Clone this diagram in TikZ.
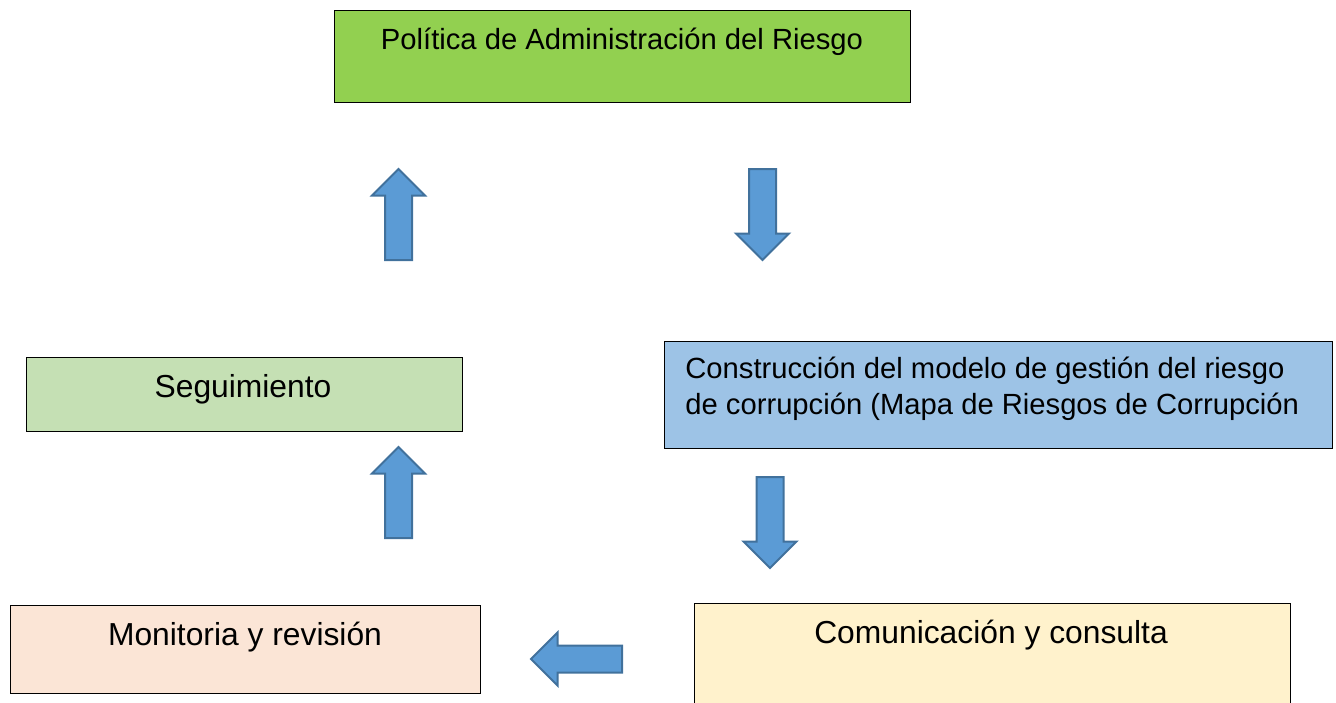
\documentclass[tikz,border=0pt]{standalone}
\usepackage{fontspec}
\setmainfont{Liberation Sans}
\usepackage{xcolor}
\usetikzlibrary{shapes.arrows}
\definecolor{verdePol}{HTML}{92D050}
\definecolor{verdeSeg}{HTML}{C5E0B4}
\definecolor{azulCon}{HTML}{9DC3E6}
\definecolor{rosaMon}{HTML}{FBE5D6}
\definecolor{amarCom}{HTML}{FFF2CC}
\definecolor{azulFle}{HTML}{5B9BD5}
\definecolor{bordeFle}{HTML}{41719C}

\begin{document}
\begin{tikzpicture}[x=0.5pt,y=-0.5pt]
% Estilos (MODIFICABLES)
\tikzstyle{caja}=[draw=black,line width=0.6pt,rectangle,anchor=north west,inner sep=0pt]
\tikzstyle{texto}=[inner sep=0pt,font=\fontsize{15.9}{19}\selectfont]
\tikzstyle{textoMed}=[inner sep=0pt,align=left,font=\fontsize{14.6}{18}\selectfont]
\tikzstyle{flecha}=[single arrow,draw=bordeFle,fill=azulFle,line width=1pt,anchor=tail,
  inner sep=6.25pt,single arrow head extend=6.5pt,minimum height=45.5pt]
% Dimensiones (MODIFICABLES)
\def\ColIzq{398.5}
\useasboundingbox (0,0) rectangle (1336,702);
\clip (0,0) rectangle (1336,702);
% Cajas
\node[caja,fill=verdePol,minimum width=288pt,minimum height=46pt] (pol) at (334,10) {};
\node[caja,fill=verdeSeg,minimum width=218pt,minimum height=37pt] (seg) at (26,357) {};
\node[caja,fill=azulCon,minimum width=334pt,minimum height=53.5pt] (con) at (664,341) {};
\node[caja,fill=rosaMon,minimum width=235pt,minimum height=44pt] (mon) at (10,605) {};
\node[caja,fill=amarCom,minimum width=298pt,minimum height=60pt] (com) at (694,603) {};
% Textos
\node[textoMed,anchor=base] (polT) at (622,49) {Política de Administración del Riesgo};
\node[texto,anchor=base] (segT) at (243,397) {Seguimiento};
\node[textoMed,anchor=west] (conT) at (685,389) {Construcción del modelo de gestión del riesgo\\de corrupción (Mapa de Riesgos de Corrupción};
\node[texto,anchor=base] (monT) at (245,645) {Monitoria y revisión};
\node[texto,anchor=base] (comT) at (991,643) {Comunicación y consulta};
% Flechas
\node[flecha,rotate=90] (fA) at (\ColIzq,261) {};
\node[flecha,rotate=-90] (fB) at (762.5,168) {};
\node[flecha,rotate=-90] (fC) at (770,476) {};
\node[flecha,rotate=180] (fD) at (623,659) {};
\node[flecha,rotate=90] (fE) at (\ColIzq,539) {};
\end{tikzpicture}
\end{document}
